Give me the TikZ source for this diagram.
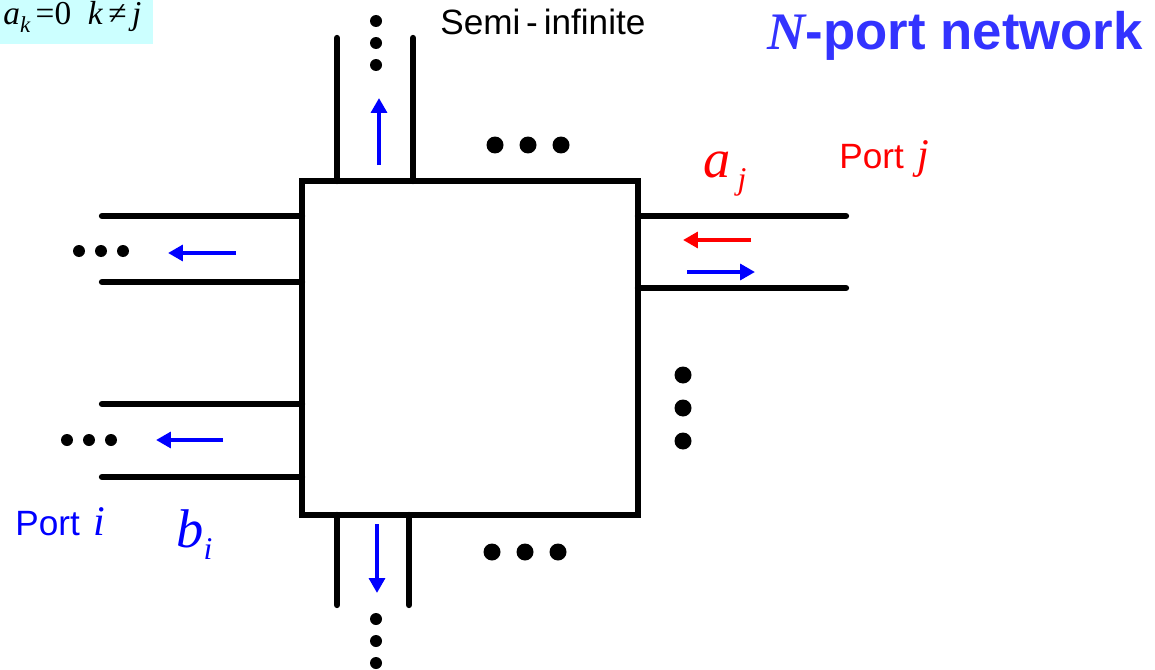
\documentclass[tikz,border=0pt]{standalone}
\usepackage{fontspec}
\setmainfont{Liberation Sans}
\newfontfamily\tms{Liberation Serif}
\usetikzlibrary{arrows.meta}
\definecolor{portblue}{RGB}{0,0,255}
\definecolor{titleblue}{RGB}{51,51,255}
\definecolor{notecyan}{RGB}{204,255,255}
\tikzset{
  line/.style={line width=3.6pt, line cap=round},
  wave/.style={line width=2.4pt, -{Triangle[length=8.5pt,width=9pt]}},
}
\newcommand{\fsz}[1]{\fontsize{#1}{#1}\selectfont}

\begin{document}
\begin{tikzpicture}[x=0.02cm, y=-0.02cm]
    \useasboundingbox (0,0) rectangle (1155,669);

    % condition and title
    \fill[notecyan] (0,0) rectangle (153,44);
    \node[anchor=base west, inner sep=0, font=\tms\itshape\fsz{19}] (cond) at (3,25)
        {a\raisebox{-4pt}{\fsz{13}k}\,{\upshape=0}\ \ k\,{\upshape≠}\,j};
    \node[anchor=base east, inner sep=0, text=titleblue, font=\fsz{30}\bfseries] (title) at (1143,50)
        {{\tms\itshape N}-port network};
    \node[anchor=base west, inner sep=0, font=\fsz{20}] (semi) at (440,35) {Semi\,-\,infinite};

    % network
    \draw[line, line cap=butt, line join=miter] (302,181) rectangle (638,515);

    % port lines
    \draw[line] (337,181) -- (337,38);
    \draw[line] (413,181) -- (413,38);
    \draw[line] (337,515) -- (337,605);
    \draw[line] (409,515) -- (409,605);
    \draw[line] (638,216) -- (846,216);
    \draw[line] (638,288) -- (846,288);
    \draw[line] (302,216) -- (102,216);
    \draw[line] (302,282) -- (102,282);
    \draw[line] (302,404) -- (102,404);
    \draw[line] (302,477) -- (102,477);

    % waves
    \draw[wave, portblue] (379,165) -- (379,98);
    \draw[wave, portblue] (377,524) -- (377,593);
    \draw[wave, red] (751,240) -- (683,240);
    \draw[wave, portblue] (687,272) -- (755,272);
    \draw[wave, portblue] (236,253) -- (168,253);
    \draw[wave, portblue] (223,440) -- (156,440);

    % dots
    \foreach \y in {21,43,65} \fill (376,\y) circle[radius=0.12cm];
    \foreach \y in {619,641,663} \fill (376,\y) circle[radius=0.12cm];
    \foreach \x in {79,101,123} \fill (\x,251) circle[radius=0.12cm];
    \foreach \x in {67,89,111} \fill (\x,440) circle[radius=0.12cm];
    \foreach \x in {495,528,561} \fill (\x,145) circle[radius=0.17cm];
    \foreach \x in {492,525,558} \fill (\x,552) circle[radius=0.17cm];
    \foreach \y in {375,408,441} \fill (683,\y) circle[radius=0.17cm];

    % port labels
    \node[anchor=base west, inner sep=0, text=red, font=\fsz{20}] (portj) at (839,168)
        {Port\hspace{8pt}{\tms\itshape\fsz{24}j}};
    \node[anchor=base west, inner sep=0, text=red, font=\tms\itshape\fsz{31}] (aj) at (703,177)
        {a\hspace{4pt}\raisebox{-7pt}{\fsz{18}j}};
    \node[anchor=base west, inner sep=0, text=portblue, font=\fsz{20}] (porti) at (15,535)
        {Port\hspace{8pt}{\tms\itshape\fsz{24}i}};
    \node[anchor=base west, inner sep=0, text=portblue, font=\tms\itshape\fsz{31}] (bi) at (176,547)
        {b\raisebox{-7pt}{\fsz{18}i}};
\end{tikzpicture}
\end{document}
